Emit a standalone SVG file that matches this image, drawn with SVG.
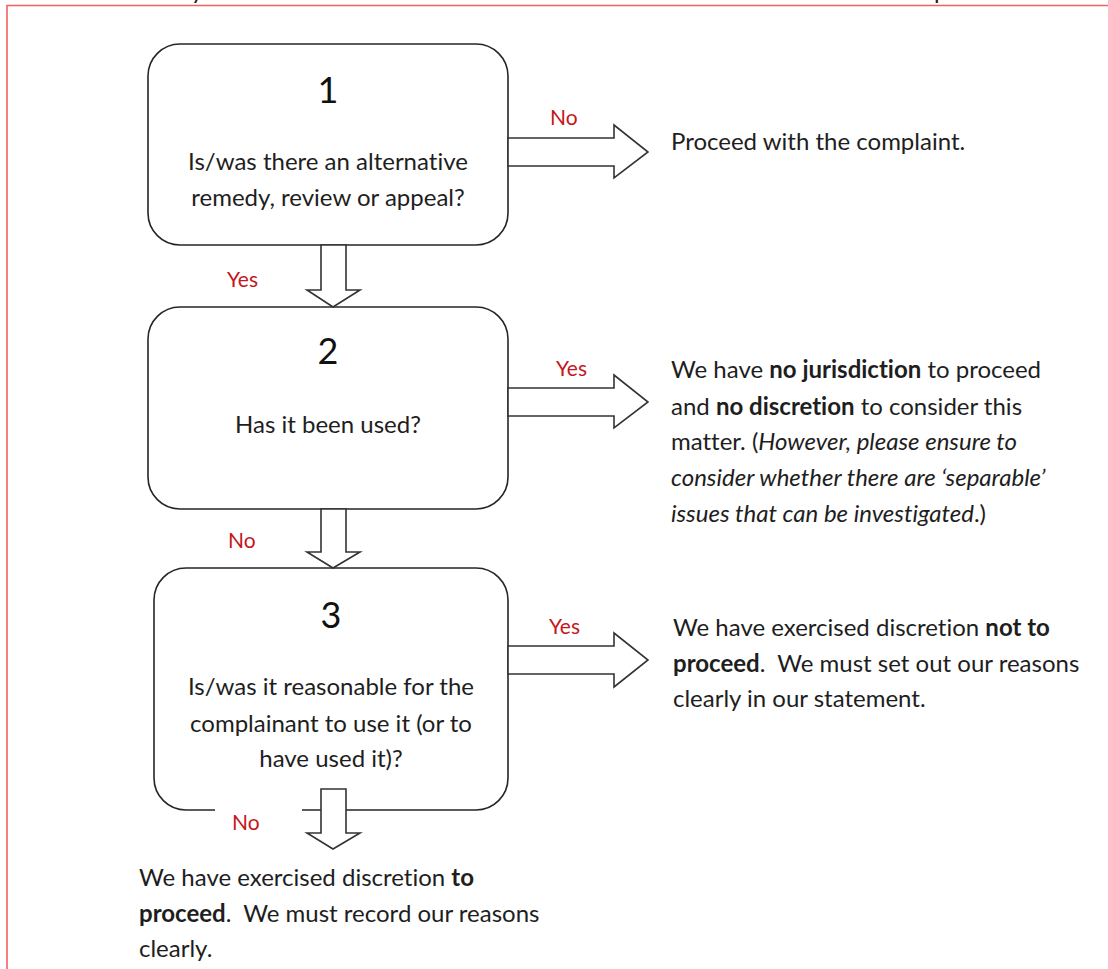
<svg xmlns="http://www.w3.org/2000/svg" width="1108" height="969" viewBox="0 0 1108 969">
<style>
.box{fill:#fff;stroke:#262626;stroke-width:1.6}
.arr{fill:#fff;stroke:#333;stroke-width:1.6;stroke-linejoin:miter}
.t{font-family:Lato,"Open Sans",sans-serif;font-size:24px;fill:#1e1e1e;font-variant-ligatures:none}
.c{text-anchor:middle}
.num{font-family:Lato,"Open Sans",sans-serif;font-size:36px;fill:#111;text-anchor:middle}
.lbl{font-family:Lato,"Open Sans",sans-serif;font-size:21px;fill:#c4161c}
</style>
<defs>
<clipPath id="topclip"><rect x="0" y="0" width="1108" height="5"/></clipPath>
</defs>
<rect width="1108" height="969" fill="#fff"/>
<g id="page-frame">
<path d="M7,969 V5.5 H1108" fill="none" stroke="#f06262" stroke-width="1.6"/>
<g clip-path="url(#topclip)">
<text class="t" x="191" y="-1">y</text>
<text class="t" x="934" y="-1">p</text>
</g>
</g>
<g id="node1">
<rect class="box" x="148" y="44" width="360" height="201" rx="32" ry="32"/>
<text class="num" x="328" y="103">1</text>
<text class="t c" x="328" y="170">Is/was there an alternative</text>
<text class="t c" x="328" y="206">remedy, review or appeal?</text>
</g>
<g id="node2">
<rect class="box" x="148" y="307" width="360" height="202" rx="32" ry="32"/>
<text class="num" x="328" y="364">2</text>
<text class="t c" x="328" y="433">Has it been used?</text>
</g>
<g id="node3">
<path class="box" d="M302,810 H476 A32,32 0 0 0 508,778 V600 A32,32 0 0 0 476,568 H186 A32,32 0 0 0 154,600 V778 A32,32 0 0 0 186,810 H215"/>
<text class="num" x="331" y="628">3</text>
<text class="t c" x="331" y="695">Is/was it reasonable for the</text>
<text class="t c" x="331" y="732">complainant to use it (or to</text>
<text class="t c" x="331" y="767">have used it)?</text>
</g>
<g id="out1">
<text class="t" x="671" y="150">Proceed with the complaint.</text>
</g>
<g id="out2">
<text class="t" x="671" y="378">We have <tspan font-weight="bold">no jurisdiction</tspan> to proceed</text>
<text class="t" x="671" y="415">and <tspan font-weight="bold">no discretion</tspan> to consider this</text>
<text class="t" x="671" y="450">matter. (<tspan font-style="italic">However, please ensure to</tspan></text>
<text class="t" x="671" y="486" font-style="italic">consider whether there are ‘separable’</text>
<text class="t" x="671" y="522"><tspan font-style="italic">issues that can be investigated</tspan>.)</text>
</g>
<g id="out3">
<text class="t" x="673" y="636">We have exercised discretion <tspan font-weight="bold">not to</tspan></text>
<text class="t" x="673" y="672"><tspan font-weight="bold">proceed</tspan>.&#160; We must set out our reasons</text>
<text class="t" x="673" y="707">clearly in our statement.</text>
</g>
<g id="out4">
<text class="t" x="139" y="886">We have exercised discretion <tspan font-weight="bold">to</tspan></text>
<text class="t" x="139" y="922"><tspan font-weight="bold">proceed</tspan>.&#160; We must record our reasons</text>
<text class="t" x="139" y="957">clearly.</text>
</g>
<g id="connectors">
<polygon class="arr" points="508,138 614,138 614,125 648,152 614,178 614,166 508,166"/>
<polygon class="arr" points="508,388 614,388 614,375 648,402 614,428 614,416 508,416"/>
<polygon class="arr" points="508,646 614,646 614,633 648,660 614,687 614,674 508,674"/>
<polygon class="arr" points="321,245 321,290 307,290 333,307 360,290 346,290 346,245"/>
<polygon class="arr" points="321,509 321,552 307,552 333,568 360,552 346,552 346,509"/>
<polygon class="arr" points="321,789 321,833 307,833 333,849 360,833 346,833 346,789"/>
<text class="lbl" x="550" y="125">No</text>
<text class="lbl" x="227" y="287">Yes</text>
<text class="lbl" x="556" y="376">Yes</text>
<text class="lbl" x="228" y="548">No</text>
<text class="lbl" x="549" y="634">Yes</text>
<text class="lbl" x="232" y="830">No</text>
</g>
</svg>
